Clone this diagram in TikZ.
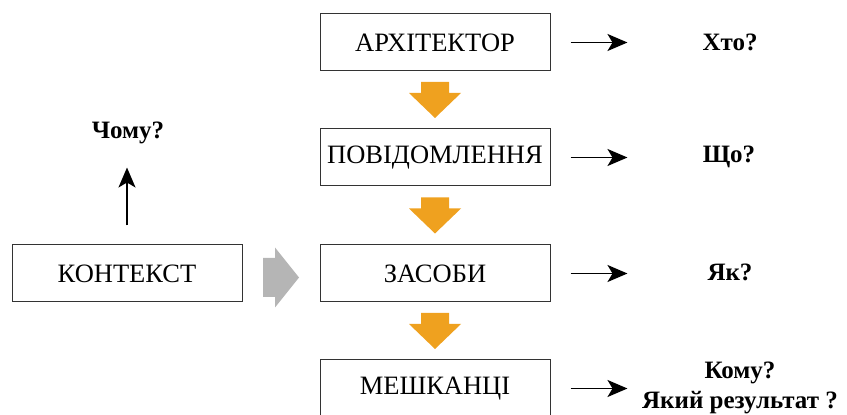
\documentclass[tikz,border=0pt]{standalone}
\usepackage{fontspec}
\setmainfont{Liberation Serif}
\usetikzlibrary{arrows.meta,positioning,calc}
\definecolor{arroworange}{HTML}{EFA11F}
\definecolor{arrowgray}{HTML}{B5B5B5}
\tikzset{
  box/.style={draw=black!80, line width=1pt, minimum width=230pt, minimum height=57pt, inner sep=0pt, font=\fontsize{26.5}{30}\selectfont},
  question/.style={font=\bfseries\fontsize{25}{30}\selectfont, align=center},
  arr/.style={line width=1.8pt, -{Stealth[length=20pt,width=17pt,inset=5pt]}},
  down/.pic={\fill[arroworange] (-14,18) -- (14,18) -- (14,7) -- (26,7) -- (0,-18) -- (-26,7) -- (-14,7) -- cycle;},
  side/.pic={\fill[arrowgray] (-18,19.5) -- (-6,19.5) -- (-6,30) -- (18,0) -- (-6,-30) -- (-6,-19.5) -- (-18,-19.5) -- cycle;}
}

\begin{document}
\begin{tikzpicture}[x=1pt,y=1pt]
    \useasboundingbox (0,0) rectangle (847,415);
    \node[box] (arch) at (435,372.5) {АРХІТЕКТОР};
    \node[box, below=57pt of arch] (msg) {ПОВІДОМЛЕННЯ};
    \node[box, below=58pt of msg] (tools) {ЗАСОБИ};
    \node[box, below=57pt of tools] (people) {МЕШКАНЦІ};
    \node[box, left=77pt of tools] (context) {КОНТЕКСТ};
    \pic at ($(arch.south)!0.5!(msg.north)$) {down};
    \pic at ($(msg.south)!0.5!(tools.north)$) {down};
    \pic at ($(tools.south)!0.5!(people.north)$) {down};
    \pic at ($(context.east)!0.5!(tools.west)+(0,-4)$) {side};
    \node[question] (who) at (730,373) {Хто?};
    \node[question] (what) at (729,258) {Що?};
    \node[question] (how) at (730,143) {Як?};
    \node[question] (whom) at (740,27) {Кому?\\Який результат ?};
    \node[question] (why) at (128,282) {Чому?};
    \foreach \n in {arch,msg,tools,people}
        \draw[arr] ([xshift=20pt]\n.east) -- ++(57pt,0);
    \draw[arr] ([yshift=19pt]context.north) -- ([yshift=-20pt]context.north |- why.south);
\end{tikzpicture}
\end{document}
